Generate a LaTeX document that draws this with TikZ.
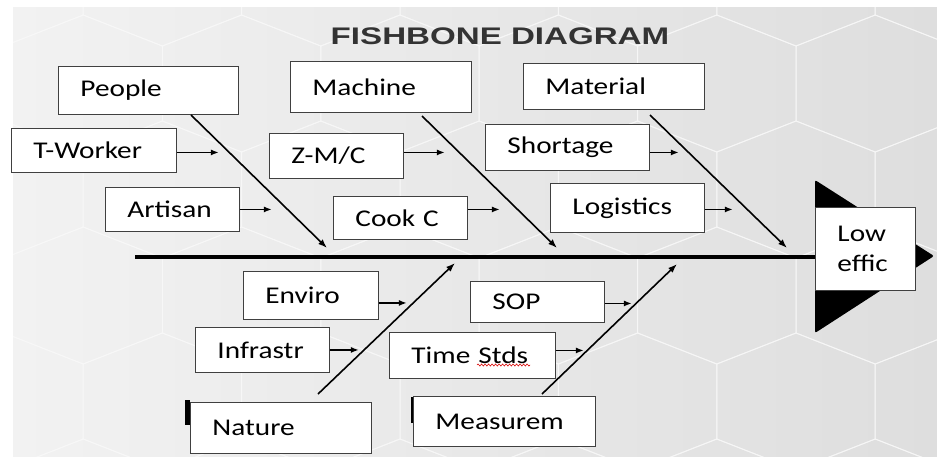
\documentclass[tikz,border=0pt]{standalone}
\usepackage{fontspec}
\newfontfamily\boxfont[FakeStretch=1.22]{Carlito}
\newfontfamily\titlefont[FakeStretch=1.38]{Liberation Sans}
\usetikzlibrary{arrows.meta,decorations.pathmorphing}
\definecolor{titlegray}{HTML}{333333}
\definecolor{bgL}{HTML}{F2F2F2}
\definecolor{bgR}{HTML}{DEDEDE}
\definecolor{hexline}{HTML}{F8F8F8}
\begin{document}
\begin{tikzpicture}[x=1pt,y=-1pt,
  fb/.style={draw=black!75, line width=0.9pt, fill=white, anchor=north west,
    inner xsep=22pt, inner ysep=0pt, align=left,
    font=\boxfont\fontsize{24}{30}\selectfont},
  bone/.style={line width=1.6pt, -{Latex[length=9pt,width=6.5pt]}},
  sarr/.style={line width=1.6pt, -{Latex[length=8pt,width=6pt]}}]
\useasboundingbox (0,0) rectangle (937,456);
% background
\fill[white] (0,0) rectangle (937,456);
\fill[left color=bgL, right color=bgR] (13,7) rectangle (937,456);
\begin{scope}
\clip (13,7) rectangle (937,456);
\foreach \k in {-1,0,1,2,3,4}{
  \foreach \i in {-1,...,6}{
    \pgfmathsetmacro{\cy}{401.5-106*\k}
    \pgfmathsetmacro{\cx}{4+79.2*mod(\k+2,2)+158.4*\i}
    \draw[hexline, line width=1pt, opacity=0.75]
      (\cx-79.2,\cy-37.5) -- (\cx,\cy-68.5) -- (\cx+79.2,\cy-37.5)
      -- (\cx+79.2,\cy+37.5) -- (\cx,\cy+68.5) -- (\cx-79.2,\cy+37.5) -- cycle;
  }
}
\end{scope}
% title
\node[text=titlegray, font=\titlefont\bfseries\fontsize{24}{28}\selectfont] (title) at (500,36) {FISHBONE DIAGRAM};
% head triangle
\fill[rounded corners=2pt] (815,180) -- (934,256) -- (815,333) -- cycle;
% spine
\coordinate (spS) at (135,257);
\coordinate (spE) at (816,257);
\draw[line width=4pt] (spS) -- (spE);
% small dark marks
\fill (185,400) rectangle (190,425);
\fill (411,397) rectangle (415,423);
% boxes
\node[fb, minimum width=180pt, minimum height=48pt, text width=136pt] (People) at (58,66) {People};
\node[fb, minimum width=165pt, minimum height=44pt, text width=121pt] (TW) at (11,128) {T-Worker};
\node[fb, minimum width=134pt, minimum height=44pt, text width=90pt] (Artisan) at (105,187) {Artisan};
\node[fb, minimum width=181pt, minimum height=51pt, text width=137pt] (Machine) at (290,61) {Machine};
\node[fb, minimum width=134pt, minimum height=45pt, text width=90pt] (ZMC) at (269,133) {Z-M/C};
\node[fb, minimum width=134pt, minimum height=43pt, text width=90pt] (Cook) at (333,196) {Cook C};
\node[fb, minimum width=181pt, minimum height=46pt, text width=137pt] (Material) at (523,63) {Material};
\node[fb, minimum width=164pt, minimum height=46pt, text width=120pt] (Shortage) at (485,124) {Shortage};
\node[fb, minimum width=154pt, minimum height=49pt, text width=110pt] (Logistics) at (550,183) {Logistics};
\node[fb, minimum width=100pt, minimum height=83pt, text width=56pt] (Low) at (815,207) {Low\\effic};
\node[fb, minimum width=135pt, minimum height=48pt, text width=91pt] (Enviro) at (243,271) {Enviro};
\node[fb, minimum width=134pt, minimum height=45pt, text width=90pt] (Infrastr) at (195,327) {Infrastr};
\node[fb, minimum width=181pt, minimum height=51pt, text width=137pt] (Nature) at (190,402) {Nature};
\node[fb, minimum width=134pt, minimum height=41pt, text width=90pt] (SOP) at (470,281) {SOP};
\node[fb, minimum width=166pt, minimum height=46pt, text width=122pt] (TimeStds) at (389,332) {Time Stds};
\node[fb, minimum width=182pt, minimum height=50pt, text width=138pt] (Measurem) at (413,396) {Measurem};
% spell-check underline
\draw[red!85!black, line width=0.6pt, decorate, decoration={snake, amplitude=1pt, segment length=3.5pt}] (477,365) -- (530,365);
% main bones
\coordinate (pb1) at (191,115); \coordinate (pb2) at (327,248);
\coordinate (mb1) at (422,116); \coordinate (mb2) at (557,248);
\coordinate (tb1) at (650,115); \coordinate (tb2) at (787,248);
\coordinate (nb1) at (318,394); \coordinate (nb2) at (455,263);
\coordinate (eb1) at (542,394); \coordinate (eb2) at (677,264);
\draw[bone] (pb1) -- (pb2);
\draw[bone] (mb1) -- (mb2);
\draw[bone] (tb1) -- (tb2);
\draw[bone] (nb1) -- (nb2);
\draw[bone] (eb1) -- (eb2);
% sub-cause arrows
\draw[sarr] ([yshift=-2pt]TW.east) -- ++(42,0);
\draw[sarr] (Artisan.east) -- ++(32,0);
\draw[sarr] ([yshift=3.5pt]ZMC.east) -- ++(41,0);
\draw[sarr] ([yshift=8.5pt]Cook.east) -- ++(32,0);
\draw[sarr] ([yshift=-5pt]Shortage.east) -- ++(29,0);
\draw[sarr] ([yshift=-1.5pt]Logistics.east) -- ++(28,0);
\draw[sarr] ([yshift=-7.5pt]Enviro.east) -- ++(28,0);
\draw[sarr] (Infrastr.east) -- ++(29,0);
\draw[sarr] ([yshift=-1.5pt]SOP.east) -- ++(27,0);
\draw[sarr] ([yshift=5pt]TimeStds.east) -- ++(28,0);
\end{tikzpicture}
\end{document}
